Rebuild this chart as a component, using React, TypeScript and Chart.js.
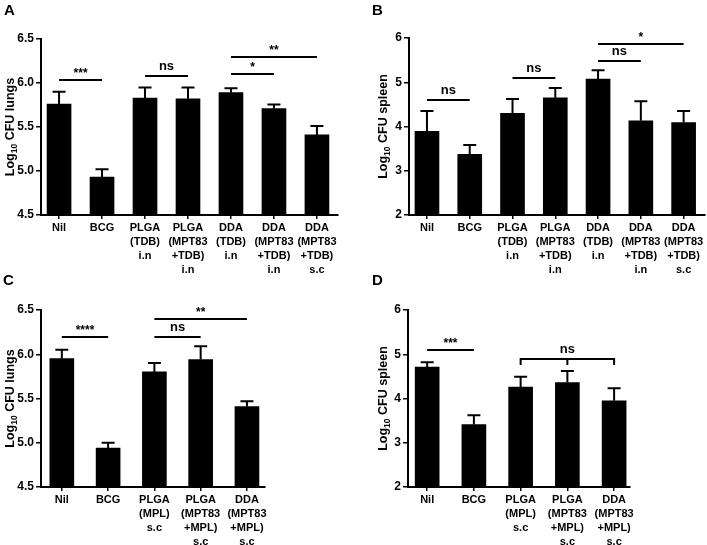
import React, { useEffect, useRef } from 'react';
import { Chart, registerables } from 'chart.js';

Chart.register(...registerables);

const FONT = "'Liberation Sans', Arial, Helvetica, sans-serif";

// ---- categories ----
const catsAB = [
  ['Nil'],
  ['BCG'],
  ['PLGA', '(TDB)', 'i.n'],
  ['PLGA', '(MPT83', '+TDB)', 'i.n'],
  ['DDA', '(TDB)', 'i.n'],
  ['DDA', '(MPT83', '+TDB)', 'i.n'],
  ['DDA', '(MPT83', '+TDB)', 's.c'],
];
const catsCD = [
  ['Nil'],
  ['BCG'],
  ['PLGA', '(MPL)', 's.c'],
  ['PLGA', '(MPT83', '+MPL)', 's.c'],
  ['DDA', '(MPT83', '+MPL)', 's.c'],
];

// ---- series values (mean) and SEM ----
const lungsA = [5.76, 4.93, 5.83, 5.82, 5.89, 5.71, 5.41];
const lungsAErr = [0.14, 0.09, 0.12, 0.13, 0.05, 0.045, 0.1];
const spleenB = [3.89, 3.37, 4.3, 4.65, 5.07, 4.13, 4.09];
const spleenBErr = [0.46, 0.21, 0.32, 0.22, 0.2, 0.44, 0.26];
const lungsC = [5.95, 4.94, 5.8, 5.94, 5.41];
const lungsCErr = [0.1, 0.06, 0.1, 0.15, 0.06];
const spleenD = [4.71, 3.41, 4.26, 4.36, 3.95];
const spleenDErr = [0.11, 0.21, 0.23, 0.26, 0.28];

// ---- y tick ranges ----
const yTicksLungs = [4.5, 5.0, 5.5, 6.0, 6.5];
const yTicksSpleen = [2, 3, 4, 5, 6];

// ---- significance comparisons: [from, to, yValue, label] ----
const sigA: [number, number, number, string][] = [
  [0, 1, 6.03, '***'],
  [2, 3, 6.08, 'ns'],
  [4, 5, 6.105, '*'],
  [4, 6, 6.295, '**'],
];
const sigB: [number, number, number, string][] = [
  [0, 1, 4.59, 'ns'],
  [2, 3, 5.1, 'ns'],
  [4, 5, 5.47, 'ns'],
  [4, 6, 5.87, '*'],
];
const sigC: [number, number, number, string][] = [
  [0, 1, 6.19, '****'],
  [2, 3, 6.2, 'ns'],
  [2, 4, 6.4, '**'],
];
const sigD: [number, number, number, string][] = [
  [0, 1, 5.1, '***'],
  [2, 4, 4.89, 'ns'],
];
const sigDTicks = [2, 3, 4];

type PanelCfg = {
  letter: string;
  left: number;
  top: number;
  w: number;
  h: number;
  area: { l: number; t: number; r: number; b: number };
  cats: string[][];
  values: number[];
  errs: number[];
  yTicks: number[];
  decimals: number;
  organ: string;
  xMin: number;
  xMax: number;
  sig: [number, number, number, string][];
  bracketTicks?: number[];
  letterX: number;
  letterY: number;
  titleX: number;
};

const panels: PanelCfg[] = [
  {
    letter: 'A', left: 0, top: 0, w: 353, h: 276,
    area: { l: 41, t: 39, r: 338, b: 215 },
    cats: catsAB, values: lungsA, errs: lungsAErr, yTicks: yTicksLungs, decimals: 1,
    organ: 'lungs', xMin: -0.42, xMax: 6.49, sig: sigA,
    letterX: 4, letterY: 15, titleX: 9,
  },
  {
    letter: 'B', left: 353, top: 0, w: 354, h: 276,
    area: { l: 56, t: 38, r: 352, b: 215 },
    cats: catsAB, values: spleenB, errs: spleenBErr, yTicks: yTicksSpleen, decimals: 0,
    organ: 'spleen', xMin: -0.42, xMax: 6.5, sig: sigB,
    letterX: 19, letterY: 15, titleX: 29,
  },
  {
    letter: 'C', left: 0, top: 272, w: 353, h: 273,
    area: { l: 41, t: 38, r: 265, b: 215 },
    cats: catsCD, values: lungsC, errs: lungsCErr, yTicks: yTicksLungs, decimals: 1,
    organ: 'lungs', xMin: -0.45, xMax: 4.39, sig: sigC,
    letterX: 3, letterY: 13, titleX: 9,
  },
  {
    letter: 'D', left: 353, top: 272, w: 354, h: 273,
    area: { l: 55, t: 38, r: 277, b: 215 },
    cats: catsCD, values: spleenD, errs: spleenDErr, yTicks: yTicksSpleen, decimals: 0,
    organ: 'spleen', xMin: -0.41, xMax: 4.34, sig: sigD, bracketTicks: sigDTicks,
    letterX: 19, letterY: 13, titleX: 29,
  },
];

function Panel({ cfg }: { cfg: PanelCfg }) {
  const ref = useRef<HTMLCanvasElement | null>(null);

  useEffect(() => {
    const c = cfg;
    const yMin = c.yTicks[0];
    const yMax = c.yTicks[c.yTicks.length - 1];

    const extras = {
      id: 'extras',
      afterDatasetsDraw(chart: any) {
        const ctx = chart.ctx;
        const ys = chart.scales.y;
        const meta = chart.getDatasetMeta(0);
        ctx.save();
        ctx.strokeStyle = '#000';
        ctx.lineWidth = 2;
        meta.data.forEach((el: any, i: number) => {
          const x = el.x;
          const yTop = ys.getPixelForValue(c.values[i]);
          const yE = ys.getPixelForValue(c.values[i] + c.errs[i]);
          ctx.beginPath();
          ctx.moveTo(x, yTop);
          ctx.lineTo(x, yE);
          ctx.moveTo(x - 6.5, yE);
          ctx.lineTo(x + 6.5, yE);
          ctx.stroke();
        });
        ctx.restore();
      },
      afterDraw(chart: any) {
        const ctx = chart.ctx;
        const xs = chart.scales.x;
        const ys = chart.scales.y;
        const area = chart.chartArea;
        ctx.save();
        ctx.fillStyle = '#000';
        ctx.strokeStyle = '#000';
        ctx.lineWidth = 2;
        // significance bars
        c.sig.forEach(([from, to, yv, label]) => {
          const x1 = xs.getPixelForValue(from);
          const x2 = xs.getPixelForValue(to);
          const y = Math.round(ys.getPixelForValue(yv));
          ctx.beginPath();
          ctx.moveTo(x1, y);
          ctx.lineTo(x2, y);
          ctx.stroke();
          if (c.bracketTicks && from === c.bracketTicks[0]) {
            c.bracketTicks.forEach((t) => {
              const xt = xs.getPixelForValue(t);
              ctx.beginPath();
              ctx.moveTo(xt, y - 1);
              ctx.lineTo(xt, y + 6);
              ctx.stroke();
            });
          }
          const isStar = label.indexOf('*') >= 0;
          ctx.font = isStar ? `bold 12px ${FONT}` : `bold 13px ${FONT}`;
          ctx.textAlign = 'center';
          ctx.textBaseline = 'alphabetic';
          ctx.fillText(label, (x1 + x2) / 2, y - (isStar ? 3.5 : 6.5));
        });
        // y-axis title with subscript
        const cy = (area.top + area.bottom) / 2;
        ctx.translate(c.titleX, cy);
        ctx.rotate(-Math.PI / 2);
        const mainFont = `bold 12.5px ${FONT}`;
        const subFont = `bold 8.5px ${FONT}`;
        const p1 = 'Log';
        const p2 = '10';
        const p3 = ` CFU ${c.organ}`;
        ctx.font = mainFont;
        const w1 = ctx.measureText(p1).width;
        const w3 = ctx.measureText(p3).width;
        ctx.font = subFont;
        const w2 = ctx.measureText(p2).width;
        const total = w1 + w2 + w3;
        let x = -total / 2;
        ctx.textAlign = 'left';
        ctx.textBaseline = 'alphabetic';
        ctx.font = mainFont;
        ctx.fillText(p1, x, 4.5);
        x += w1;
        ctx.font = subFont;
        ctx.fillText(p2, x, 7.5);
        x += w2;
        ctx.font = mainFont;
        ctx.fillText(p3, x, 4.5);
        ctx.setTransform(1, 0, 0, 1, 0, 0);
        // panel letter
        ctx.font = `bold 15px ${FONT}`;
        ctx.textAlign = 'left';
        ctx.fillText(c.letter, c.letterX, c.letterY);
        ctx.restore();
      },
    };

    const chart = new Chart(ref.current as HTMLCanvasElement, {
      type: 'bar',
      data: {
        datasets: [
          {
            data: c.values.map((v, i) => ({ x: i, y: v })),
            backgroundColor: '#000',
            borderWidth: 0,
            barThickness: 24,
            base: yMin,
          } as any,
        ],
      },
      options: {
        responsive: false,
        animation: false,
        devicePixelRatio: 1,
        layout: {
          padding: { top: c.area.t, right: c.w - c.area.r, left: 0, bottom: 0 },
        },
        plugins: {
          legend: { display: false },
          tooltip: { enabled: false },
          title: { display: false },
        },
        scales: {
          x: {
            type: 'linear',
            offset: false,
            min: c.xMin,
            max: c.xMax,
            afterBuildTicks: (s: any) => {
              s.ticks = c.cats.map((_, i) => ({ value: i }));
            },
            afterFit: (s: any) => {
              s.height = c.h - c.area.b;
            },
            grid: {
              display: true,
              offset: false,
              drawOnChartArea: false,
              drawTicks: true,
              tickLength: 4,
              color: '#000',
              lineWidth: 1.5,
            },
            border: { display: true, color: '#000', width: 2 },
            ticks: {
              autoSkip: false,
              maxRotation: 0,
              minRotation: 0,
              padding: 2,
              color: '#000',
              font: { family: FONT, size: 11, weight: 'bold', lineHeight: 1.27 },
              callback: (v: any) => {
                const i = Math.round(Number(v));
                return c.cats[i] ?? '';
              },
            },
          } as any,
          y: {
            type: 'linear',
            min: yMin,
            max: yMax,
            afterBuildTicks: (s: any) => {
              s.ticks = c.yTicks.map((v) => ({ value: v }));
            },
            afterFit: (s: any) => {
              s.width = c.area.l;
            },
            grid: {
              display: true,
              drawOnChartArea: false,
              drawTicks: true,
              tickLength: 5,
              color: '#000',
              lineWidth: 1.5,
            },
            border: { display: true, color: '#000', width: 2 },
            ticks: {
              padding: 2,
              color: '#000',
              font: { family: FONT, size: 12, weight: 'bold' },
              callback: (v: any) => Number(v).toFixed(c.decimals),
            },
          } as any,
        },
      },
      plugins: [extras as any],
    });
    return () => chart.destroy();
  }, [cfg]);

  return (
    <canvas
      ref={ref}
      width={cfg.w}
      height={cfg.h}
      style={{ position: 'absolute', left: cfg.left, top: cfg.top, width: cfg.w, height: cfg.h }}
    />
  );
}

export default function App() {
  return (
    <div
      style={{
        position: 'absolute',
        left: 0,
        top: 0,
        width: 707,
        height: 545,
        background: '#fff',
        overflow: 'hidden',
      }}
    >
      {panels.map((p) => (
        <Panel key={p.letter} cfg={p} />
      ))}
    </div>
  );
}
